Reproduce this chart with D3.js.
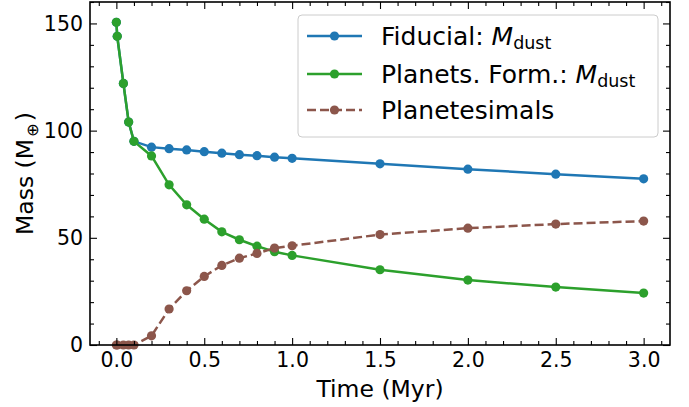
<!DOCTYPE html>
<html><head><meta charset="utf-8">
<script src="https://cdn.jsdelivr.net/npm/d3@7"></script>
<style>body{margin:0;background:#fff}svg{display:block}text{font-family:"DejaVu Sans",sans-serif}</style>
</head><body><svg id="c" width="689" height="407"></svg>
<script>
const timeEarly = [0, 0.005, 0.04, 0.07, 0.1];
const timeLate = [0.2, 0.3, 0.4, 0.5, 0.6, 0.7, 0.8, 0.9, 1.0, 1.5, 2.0, 2.5, 3.0];
const times = timeEarly.concat(timeLate);
const fiducial = [150.5, 144, 122, 104, 95, 92.3, 91.6, 91, 90.2, 89.5, 88.8, 88.3, 87.6, 87.1, 84.5, 82.0, 79.7, 77.5];
const planetsForm = [150.5, 144, 122, 104, 95, 88.2, 74.7, 65.4, 58.7, 52.8, 49.1, 46.1, 43.5, 41.8, 35.1, 30.3, 27.0, 24.2];
const planetesimals = [0, 0, 0, 0, 0, 4.3, 16.8, 25.3, 32, 37.1, 40.5, 42.7, 45.2, 46.3, 51.5, 54.5, 56.4, 57.8];
const xTicks = [0, 0.5, 1.0, 1.5, 2.0, 2.5, 3.0];
const yTicks = [0, 50, 100, 150];
const seriesNames = ["Fiducial", "Planets. Form.", "Planetesimals"];
const colors = ["#1f77b4", "#2ca02c", "#8c564b"];

const svg = d3.select("#c");
const L = 90, R = 670, T = 2, B = 345;
const x = d3.scaleLinear().domain([-0.15, 3.15]).range([L, R]);
const y = d3.scaleLinear().domain([0, 160]).range([B, T]);
const fsTick = 20.5, fsLab = 23.5, fsLeg = 25;
const lw = 2.5, mr = 4.6;

const series = [fiducial, planetsForm, planetesimals];
const line = d3.line().x(d => x(d[0])).y(d => y(d[1]));
series.forEach((vals, i) => {
  const pts = times.map((t, j) => [t, vals[j]]);
  svg.append("path").attr("d", line(pts)).attr("fill", "none")
    .attr("stroke", colors[i]).attr("stroke-width", lw)
    .attr("stroke-dasharray", i === 2 ? "9,4" : null);
  svg.selectAll(null).data(pts).enter().append("circle")
    .attr("cx", d => x(d[0])).attr("cy", d => y(d[1])).attr("r", mr).attr("fill", colors[i]);
});

// axes with inward ticks
function ax(gen, tr, major, minor, fmt, labels) {
  const g1 = svg.append("g").attr("transform", tr).call(gen.tickValues(major).tickSize(-7).tickPadding(7).tickFormat(labels ? fmt : ""));
  const g2 = svg.append("g").attr("transform", tr).call(gen.tickValues(minor).tickSize(-4).tickFormat(""));
  [g1, g2].forEach(g => { g.select(".domain").remove(); g.selectAll("line").attr("stroke", "#000").attr("stroke-width", 1.1); });
  g1.selectAll("text").attr("font-size", fsTick).attr("fill", "#000").style("font-family", "DejaVu Sans");
}
const xMinor = d3.range(-1, 32).map(i => i / 10).filter(v => v >= -0.15 && v <= 3.15 && Math.abs(v * 2 - Math.round(v * 2)) > 1e-6);
const yMinor = d3.range(0, 161, 10).filter(v => v % 50 !== 0);
ax(d3.axisBottom(x), `translate(0,${B})`, xTicks, xMinor, d3.format(".1f"), true);
ax(d3.axisTop(x), `translate(0,${T})`, xTicks, xMinor, null, false);
ax(d3.axisLeft(y), `translate(${L},0)`, yTicks, yMinor, d3.format("d"), true);
ax(d3.axisRight(y), `translate(${R},0)`, yTicks, yMinor, null, false);
svg.append("rect").attr("x", L).attr("y", T).attr("width", R - L).attr("height", B - T)
  .attr("fill", "none").attr("stroke", "#000").attr("stroke-width", 1.6);

// axis labels
svg.append("text").attr("x", (L + R) / 2).attr("y", 396.5).attr("text-anchor", "middle").attr("font-size", fsLab).text("Time (Myr)");
const yl = svg.append("text").attr("transform", `translate(33,173.5) rotate(-90)`).attr("text-anchor", "middle").attr("font-size", fsLab);
yl.append("tspan").text("Mass (M");
yl.append("tspan").attr("font-size", fsLab * 0.7).attr("dx", 2).attr("dy", 5).text("⊕");
yl.append("tspan").attr("dx", 2).attr("dy", -5).text(")");

// legend
const lg = svg.append("g");
lg.append("rect").attr("x", 298).attr("y", 15).attr("width", 360).attr("height", 122).attr("rx", 4)
  .attr("fill", "rgba(255,255,255,0.8)").attr("stroke", "#ccc").attr("stroke-width", 1);
const rows = [36, 74, 110];
rows.forEach((ry, i) => {
  lg.append("line").attr("x1", 307).attr("x2", 362).attr("y1", ry).attr("y2", ry)
    .attr("stroke", colors[i]).attr("stroke-width", lw).attr("stroke-dasharray", i === 2 ? "9,4" : null);
  lg.append("circle").attr("cx", 334.5).attr("cy", ry).attr("r", mr).attr("fill", colors[i]);
  const t = lg.append("text").attr("x", 381).attr("y", ry + 9).attr("font-size", fsLeg);
  if (i < 2) {
    t.append("tspan").text(seriesNames[i] + ": ");
    t.append("tspan").attr("font-style", "italic").text("M");
    t.append("tspan").attr("font-size", fsLeg * 0.7).attr("dy", 4).text("dust");
  } else {
    t.text(seriesNames[i]);
  }
});
</script></body></html>
